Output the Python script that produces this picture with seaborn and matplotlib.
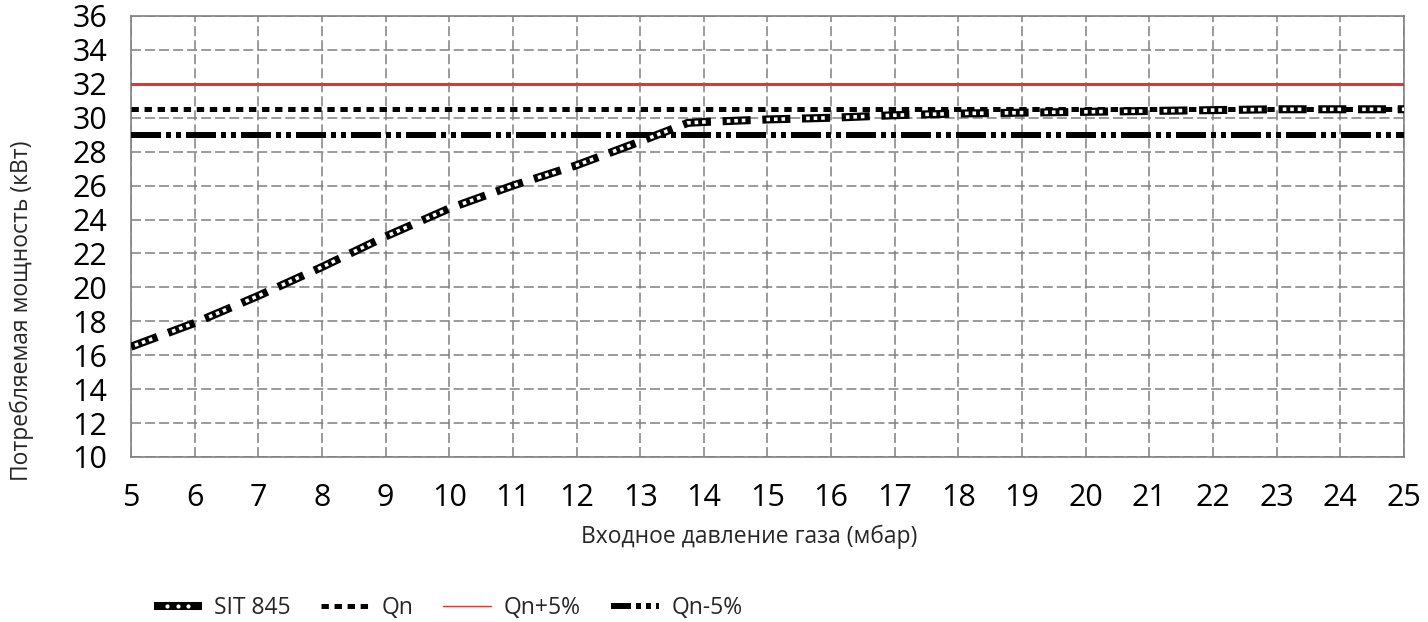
import matplotlib
matplotlib.use("Agg")
import pandas as pd
import matplotlib.pyplot as plt
import seaborn as sns
from matplotlib.lines import Line2D
from matplotlib.legend_handler import HandlerBase

# ---- data ----
pressure = [5, 6, 7, 8, 9, 10, 11, 12, 13, 13.75, 14, 15, 16, 17, 18, 19, 20, 21, 22, 23, 24, 25]
power = [16.5, 17.9, 19.5, 21.2, 23.0, 24.65, 26.0, 27.2, 28.6, 29.7, 29.75, 29.9, 30.0, 30.15,
         30.25, 30.3, 30.35, 30.4, 30.45, 30.5, 30.5, 30.5]
qn = 30.5
qn_plus = 32.0
qn_minus = 29.0
x_ticks = list(range(5, 26))
y_ticks = list(range(10, 37, 2))
series_names = ["SIT 845", "Qn", "Qn+5%", "Qn-5%"]

df = pd.DataFrame({"pressure": pressure, "power": power})


# legend key for the SIT curve: black bar with three white dots
class SitHandler(HandlerBase):
    def create_artists(self, legend, orig_handle, xdescent, ydescent, width, height, fontsize, trans):
        y = height / 2 - ydescent
        x0 = -xdescent
        bar = Line2D([x0, x0 + width], [y, y], color="black", lw=5.8,
                     solid_capstyle="butt", transform=trans)
        xs = [x0 + width * f for f in (0.28, 0.5, 0.72)]
        dots = Line2D(xs, [y] * 3, ls="none", marker="o", ms=3.0, mfc="white",
                      mec="white", mew=0, transform=trans)
        return [bar, dots]


# ---- style ----
sns.set_style("white")
plt.rcParams["font.family"] = ["Open Sans", "DejaVu Sans"]
plt.rcParams["lines.scale_dashes"] = False

fig = plt.figure(figsize=(14.28, 6.22), dpi=100)
ax = fig.add_axes([0.0917, 0.2653, 0.8915, 0.709])

red = "#e3342f"

# reference lines
ax.axhline(qn_plus, color=red, lw=2.2, zorder=3)
ax.axhline(qn, color="black", lw=3.6, linestyle=(0, (5.3, 4.1)), zorder=3)
ax.axhline(qn_minus, color="black", lw=4.3,
           linestyle=(0, (21.6, 3.6, 3.6, 3.6, 3.6, 3.6)), zorder=3)

# SIT 845 curve: thick black dashes with three white dots inside each dash
sns.lineplot(data=df, x="pressure", y="power", ax=ax, color="black", lw=5.8, zorder=4)
sns.lineplot(data=df, x="pressure", y="power", ax=ax, color="white", lw=2.6, zorder=5)
black_line, white_line = ax.lines[-2], ax.lines[-1]
black_line.set_linestyle((0, (20.2, 8.4)))
black_line.set_dash_capstyle("butt")
white_line.set_linestyle((25.6, (2.6, 2.8, 2.6, 2.8, 2.6, 15.2)))
white_line.set_dash_capstyle("butt")

# axes
ax.set_xlim(5, 25)
ax.set_ylim(10, 36)
ax.set_xticks(x_ticks)
ax.set_yticks(y_ticks)
ax.set_xlabel("")
ax.set_ylabel("")
ax.tick_params(axis="both", length=0, labelsize=22, colors="black")
ax.tick_params(axis="y", pad=17)
ax.tick_params(axis="x", pad=18.5)
ax.grid(True, color="#808080", lw=1.1, linestyle=(0, (7.2, 2.9)))
for sp in ax.spines.values():
    sp.set_visible(True)
    sp.set_color("#808080")
    sp.set_linewidth(1.2)

fig.text(749 / 1428, 1 - 537 / 622, "Входное давление газа (мбар)", ha="center", va="center",
         fontsize=16.5)
fig.text(22 / 1428, 1 - 311 / 622, "Потребляемая мощность (кВт)", ha="center", va="center",
         rotation=90, fontsize=16.5)

# legend
sit_handle = Line2D([], [], color="black")
qn_handle = Line2D([], [], color="black", lw=3.6, linestyle=(0, (5.3, 4.1)))
plus_handle = Line2D([], [], color=red, lw=1.0)
minus_handle = Line2D([], [], color="black", lw=4.3,
                      linestyle=(7.2, (21.6, 3.6, 3.6, 3.6, 3.6, 3.6)))
fig.legend([sit_handle, qn_handle, plus_handle, minus_handle], series_names,
           handler_map={sit_handle: SitHandler()},
           loc="center", bbox_to_anchor=(448 / 1428, 1 - 608 / 622), ncol=4, frameon=False,
           fontsize=16.5, handlelength=2.1, handletextpad=0.55, columnspacing=1.3,
           borderpad=0, borderaxespad=0)

plt.savefig("out.png", dpi=100)
